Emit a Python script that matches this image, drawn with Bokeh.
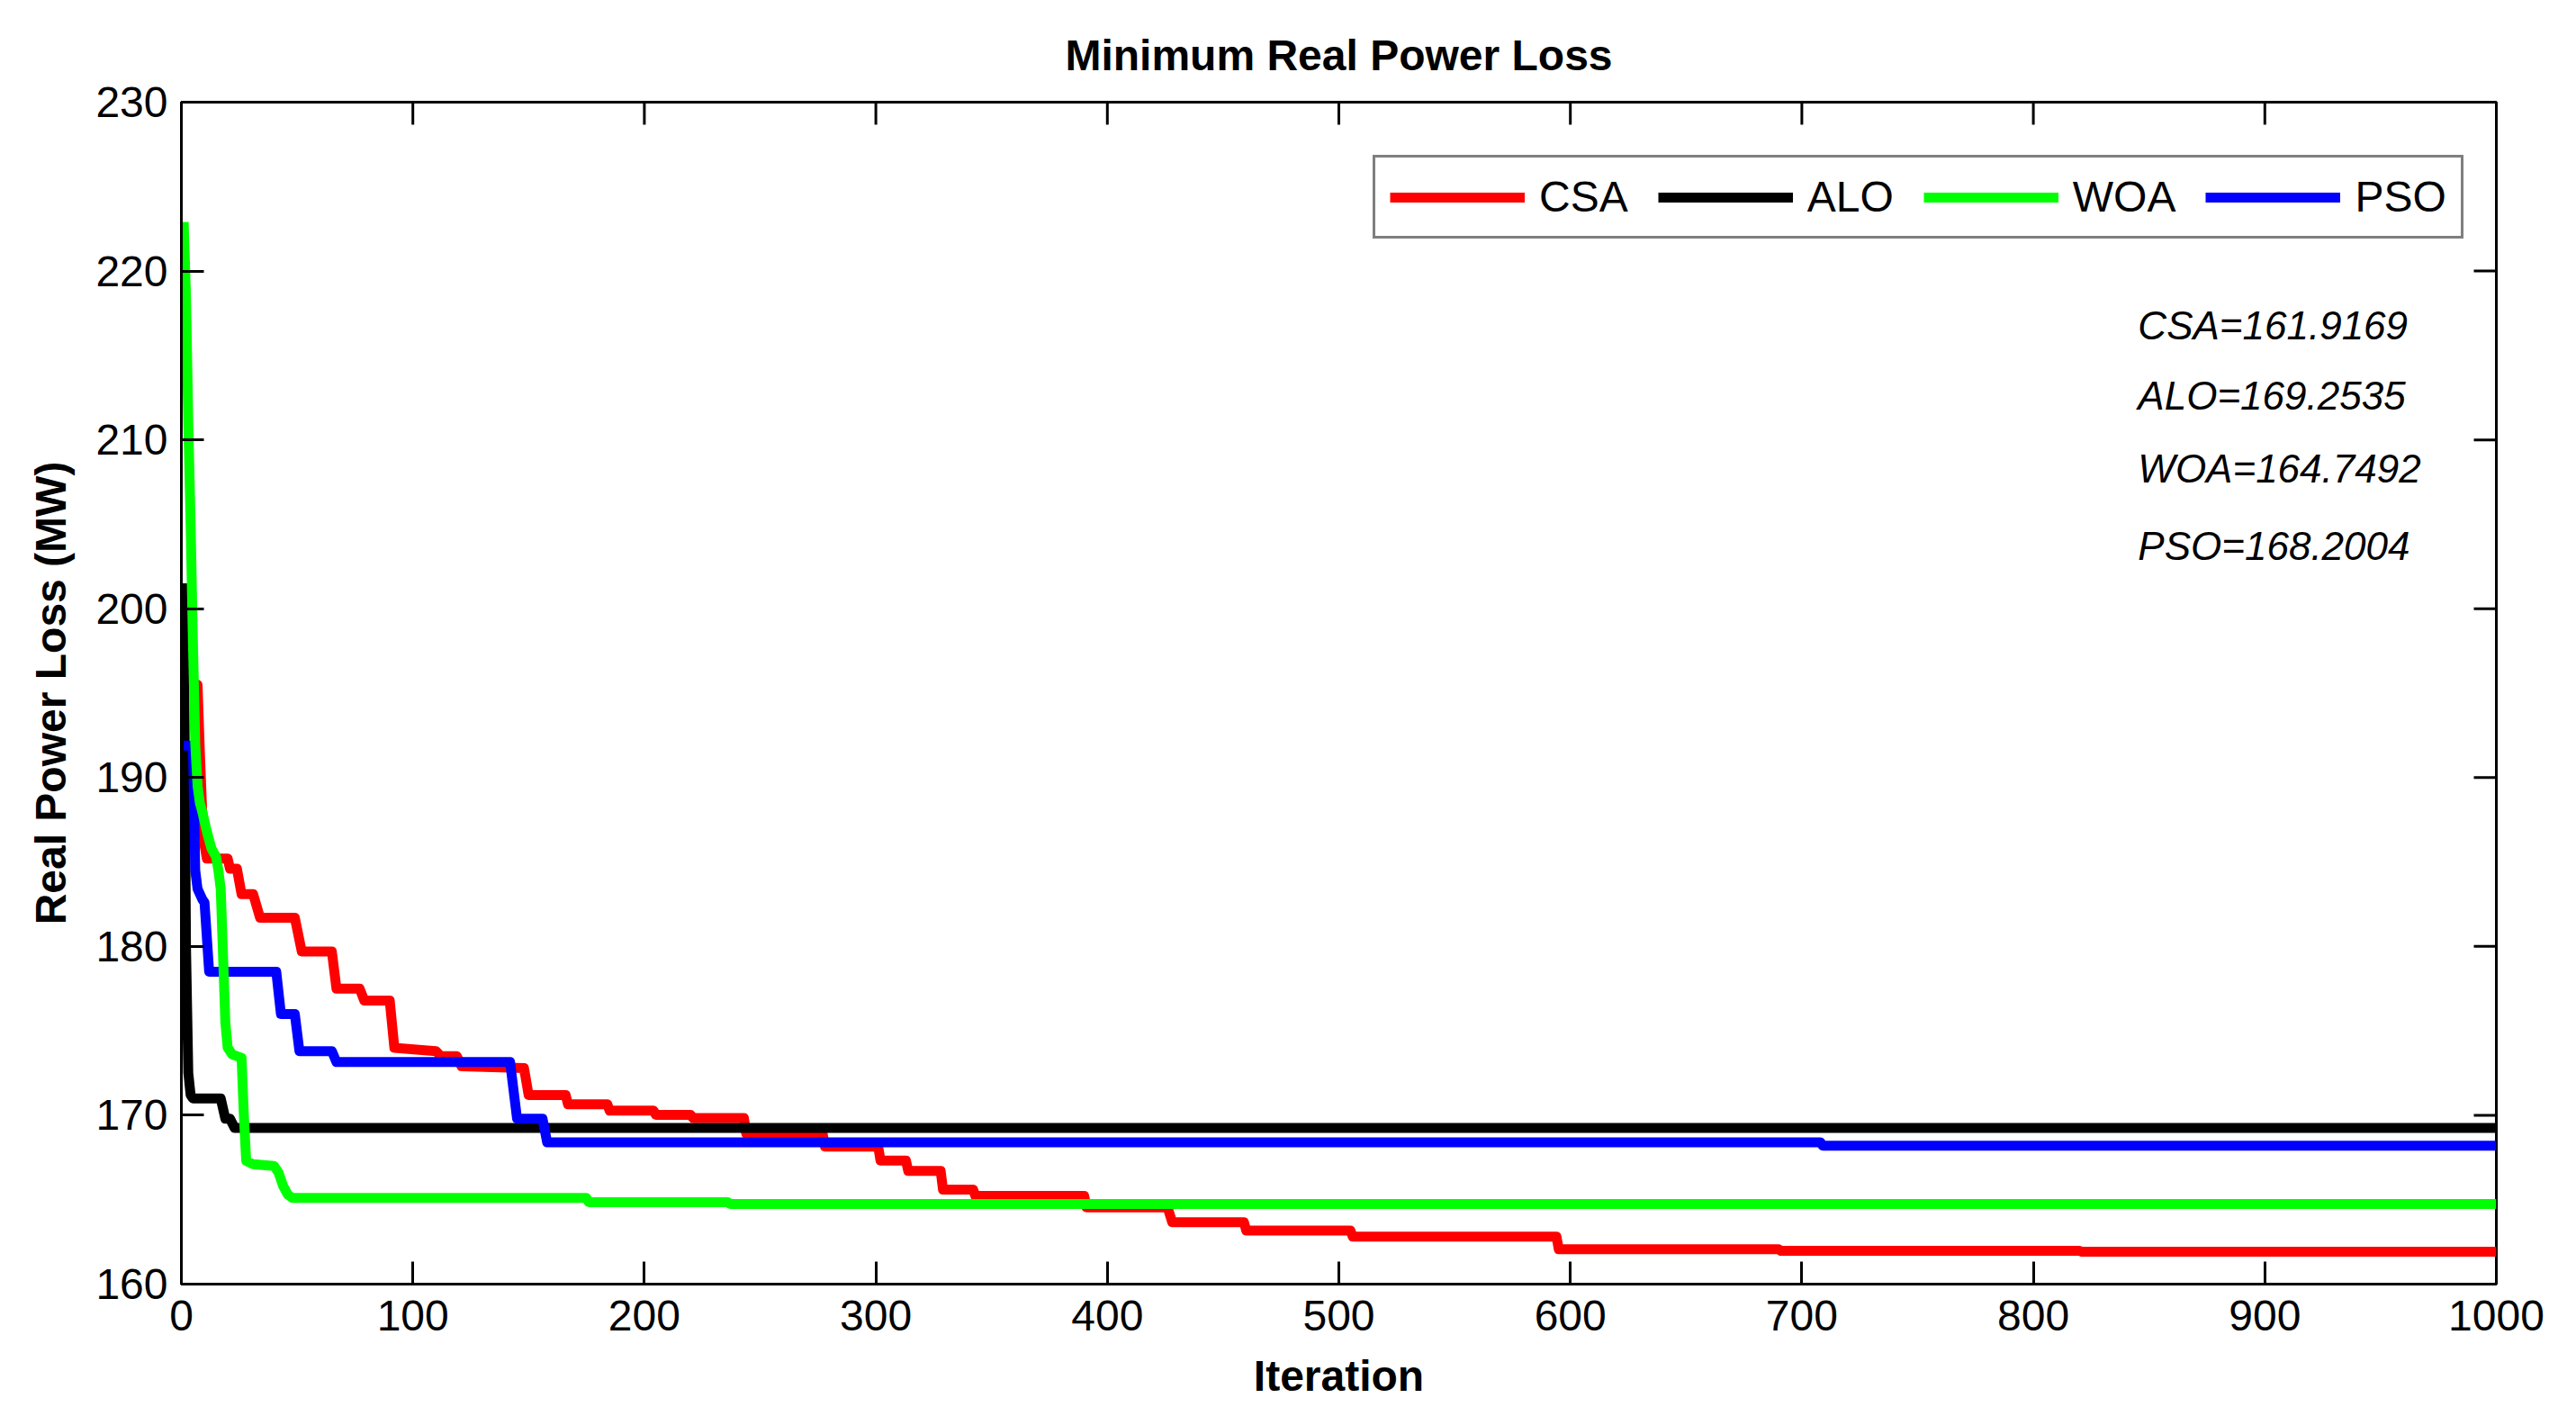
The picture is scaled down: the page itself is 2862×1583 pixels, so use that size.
from bokeh.plotting import figure
from bokeh.models import Range1d, Legend, LegendItem, Label, FixedTicker
from bokeh.embed import file_html
from bokeh.resources import INLINE

# ---------------- data ----------------
csa_iter = [1, 7, 8, 9, 10, 11, 20, 21, 24, 26, 31, 34, 49, 52, 65, 67, 77, 79, 90, 92,
            110, 112, 119, 121, 148, 150, 166, 167, 184, 185, 204, 205, 220, 221, 243, 244,
            277, 278, 301, 302, 313, 314, 328, 329, 342, 343, 390, 391, 426, 428, 459, 460,
            505, 506, 594, 595, 690, 691, 820, 821, 1000]
csa_loss = [195.5, 195.5, 191.5, 188.0, 186.0, 185.2, 185.2, 184.6, 184.6, 183.1, 183.1, 181.7,
            181.7, 179.7, 179.7, 177.5, 177.5, 176.8, 176.8, 174.0, 173.8, 173.5, 173.5, 172.9,
            172.8, 171.2, 171.2, 170.65, 170.65, 170.27, 170.27, 170.02, 170.02, 169.84, 169.84,
            168.92, 168.92, 168.15, 168.15, 167.32, 167.32, 166.7, 166.7, 165.6, 165.6, 165.22,
            165.22, 164.55, 164.55, 163.67, 163.67, 163.17, 163.17, 162.81, 162.81, 162.06,
            162.06, 161.97, 161.97, 161.9169, 161.9169]

alo_iter = [1, 2, 3, 4, 5, 17, 19, 21, 23, 1000]
alo_loss = [201.5, 180.0, 172.5, 171.2, 171.0, 171.0, 169.8, 169.8, 169.2535, 169.2535]

woa_iter = [1, 2, 3, 4, 5, 6, 7, 8, 9, 11, 13, 15, 16, 17, 18, 19, 20, 22, 26, 27, 28, 31,
            40, 42, 44, 46, 48, 175, 176, 236, 237, 1000]
woa_loss = [222.9, 218.5, 211.0, 205.0, 198.0, 192.0, 189.5, 188.5, 188.0, 186.8, 185.8, 185.3,
            184.5, 183.4, 179.5, 175.5, 174.0, 173.6, 173.4, 170.0, 167.3, 167.1, 167.0, 166.6,
            165.8, 165.3, 165.1, 165.1, 164.85, 164.85, 164.7492, 164.7492]

pso_iter = [1, 5, 6, 7, 9, 10, 12, 41, 43, 49, 51, 65, 67, 142, 145, 156, 158, 708, 709, 1000]
pso_loss = [191.9, 191.9, 184.5, 183.4, 182.8, 182.6, 178.5, 178.5, 176.0, 176.0, 173.8, 173.8,
            173.15, 173.15, 169.8, 169.8, 168.4, 168.4, 168.2004, 168.2004]

series_names = ["CSA", "ALO", "WOA", "PSO"]
final_texts = ["CSA=161.9169", "ALO=169.2535", "WOA=164.7492", "PSO=168.2004"]
x_ticks = [0, 100, 200, 300, 400, 500, 600, 700, 800, 900, 1000]
y_ticks = [160, 170, 180, 190, 200, 210, 220, 230]

# ---------------- layout constants ----------------
FONT = "Liberation Sans"
X0, X1, Y0, Y1 = 0, 1000, 160, 230
FRAME_W, FRAME_H = 2572, 1313
BL, BR, BT, BB = 201, 81, 113, 149
TICK = 25

p = figure(width=BL + FRAME_W + BR, height=BT + FRAME_H + BB,
           output_backend="svg", toolbar_location=None,
           x_range=Range1d(X0, X1), y_range=Range1d(Y0, Y1),
           min_border_left=BL, min_border_right=BR, min_border_top=BT, min_border_bottom=BB)
p.background_fill_color = "white"
p.border_fill_color = "white"
p.grid.visible = False
p.outline_line_color = "black"
p.outline_line_width = 3

p.title.text = "Minimum Real Power Loss"
p.title.align = "center"
p.title.text_font = FONT
p.title.text_font_size = "48px"
p.title.text_font_style = "bold"
p.title.text_color = "black"
p.title.standoff = 51

for ax, ticks in ((p.xaxis[0], x_ticks), (p.yaxis[0], y_ticks)):
    ax.ticker = FixedTicker(ticks=ticks)
    ax.axis_line_width = 3
    ax.axis_line_color = "black"
    ax.major_tick_in = TICK
    ax.major_tick_out = 0
    ax.major_tick_line_width = 3
    ax.minor_tick_line_color = None
    ax.major_label_text_font = FONT
    ax.major_label_text_font_size = "48px"
    ax.major_label_text_color = "black"
    ax.axis_label_text_font = FONT
    ax.axis_label_text_font_size = "48px"
    ax.axis_label_text_font_style = "bold"
    ax.axis_label_text_color = "black"
p.xaxis[0].major_label_standoff = 18
p.yaxis[0].major_label_standoff = 15
p.xaxis[0].axis_label = "Iteration"
p.yaxis[0].axis_label = "Real Power Loss (MW)"
p.xaxis[0].axis_label_standoff = 21
p.yaxis[0].axis_label_standoff = 20

# inward ticks on the top and right sides of the box (no labels there)
dy = TICK * (Y1 - Y0) / FRAME_H
dx = TICK * (X1 - X0) / FRAME_W
p.segment(x0=x_ticks, y0=[Y1] * len(x_ticks), x1=x_ticks, y1=[Y1 - dy] * len(x_ticks),
          line_color="black", line_width=3)
p.segment(x0=[X1] * len(y_ticks), y0=y_ticks, x1=[X1 - dx] * len(y_ticks), y1=y_ticks,
          line_color="black", line_width=3)

LW = 11
r_csa = p.line(csa_iter, csa_loss, line_color="#ff0000", line_width=LW, line_join="round")
r_alo = p.line(alo_iter, alo_loss, line_color="#000000", line_width=LW, line_join="round")
r_pso = p.line(pso_iter, pso_loss, line_color="#0000ff", line_width=LW, line_join="round")
r_woa = p.line(woa_iter, woa_loss, line_color="#00ff00", line_width=LW, line_join="round")

legend = Legend(items=[LegendItem(label=series_names[0], renderers=[r_csa]),
                       LegendItem(label=series_names[1], renderers=[r_alo]),
                       LegendItem(label=series_names[2], renderers=[r_woa]),
                       LegendItem(label=series_names[3], renderers=[r_pso])],
                orientation="horizontal", location=(1324, 1161))
legend.label_text_font = FONT
legend.label_text_font_size = "48px"
legend.label_text_color = "black"
legend.glyph_width = 150
legend.glyph_height = 40
legend.label_height = 40
legend.label_standoff = 16
legend.spacing = 33
legend.padding = 16
legend.margin = 0
legend.border_line_color = "black"
legend.border_line_width = 3
legend.background_fill_color = "white"
legend.background_fill_alpha = 1.0
p.add_layout(legend)

label_x = 845.2
label_y = [216.8, 212.6, 208.3, 203.7]
for txt, yy in zip(final_texts, label_y):
    p.add_layout(Label(x=label_x, y=yy, text=txt, text_font=FONT, text_font_size="44px",
                       text_font_style="italic", text_color="black",
                       text_baseline="alphabetic", text_align="left"))

open("out.html", "w").write(file_html(p, INLINE))
